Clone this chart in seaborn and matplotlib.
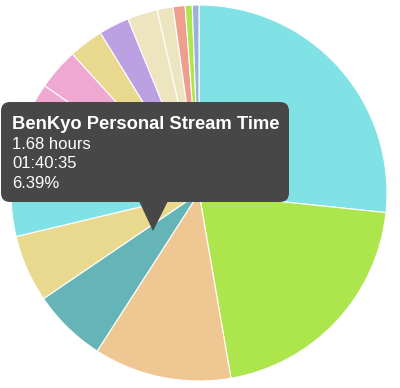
import matplotlib
matplotlib.use("Agg")
import matplotlib.pyplot as plt
from matplotlib.patches import FancyBboxPatch, Polygon
import seaborn as sns

# ---- data (hours), clockwise from 12 o'clock ----
categories = [
    "Stream A", "Stream B", "Stream C", "BenKyo Personal Stream Time",
    "Stream E", "Stream F", "Stream G", "Stream H", "Stream I",
    "Stream J", "Stream K", "Stream L", "Stream M", "Stream N", "Stream O",
]
hours = [7.01, 5.42, 3.11, 1.68, 1.52, 1.85, 1.67, 0.94, 0.78,
         0.69, 0.68, 0.36, 0.27, 0.16, 0.15]
colors = ["#80E2E4", "#ACE54C", "#EFC792", "#65B4B7", "#E8D98E",
          "#80E2E4", "#EFA8D1", "#EFA8D1", "#E8D98E", "#BBA1E1",
          "#EDE4C0", "#EDE4C0", "#EE9E8D", "#ACE54C", "#9CB1DA"]

tooltip_title = "BenKyo Personal Stream Time"
tooltip_lines = ["1.68 hours", "01:40:35", "6.39%"]

sns.set_theme(style="white")
plt.rcParams["font.family"] = ["Liberation Sans", "DejaVu Sans"]

W, H = 400, 388
fig = plt.figure(figsize=(W / 100, H / 100), dpi=100)
ax = fig.add_axes([0, 0, 1, 1])
ax.set_xlim(0, W)
ax.set_ylim(0, H)
ax.set_aspect("equal")
ax.axis("off")

cx, cy, r = 199, H - 193, 188
ax.pie(hours, colors=colors, startangle=90, counterclock=False,
       center=(cx, cy), radius=r,
       wedgeprops=dict(edgecolor="white", linewidth=0.8))
ax.set_xlim(0, W)
ax.set_ylim(0, H)
ax.set_aspect("equal")

# tooltip
tip_col = "#474747"
box = FancyBboxPatch((1, H - 202), 288, 100,
                     boxstyle="round,pad=0,rounding_size=9",
                     facecolor=tip_col, edgecolor="none", zorder=5)
ax.add_patch(box)
tri = Polygon([(139, H - 201), (168, H - 201), (153, H - 231)],
              closed=True, facecolor=tip_col, edgecolor="none", zorder=5)
ax.add_patch(tri)

ax.text(12, H - 129, tooltip_title, color="white", fontsize=13.2,
        fontweight="bold", va="baseline", ha="left", zorder=6)
ys = [149, 168, 188]
for t, y in zip(tooltip_lines, ys):
    ax.text(12, H - y, t, color="white", fontsize=12, va="baseline",
            ha="left", zorder=6)

fig.savefig("out.png", dpi=100)
